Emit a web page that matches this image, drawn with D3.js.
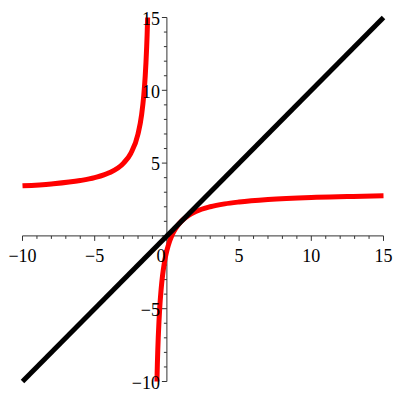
<!DOCTYPE html>
<html>
<head>
<meta charset="utf-8">
<script src="https://cdn.jsdelivr.net/npm/d3@7"></script>
<style>
  body { margin: 0; background: #fff; }
  text { font-family: "Liberation Serif", "Times New Roman", serif; font-size: 18px; fill: #000; }
</style>
</head>
<body>
<svg class="plot"></svg>
<script>
// curve points
const leftX  = [-10, -8, -6, -5, -4, -3, -2.5, -2, -1.75, -1.6, -1.5, -1.45, -1.4, -1.37, -1.333];
const leftY  = [3.44, 3.57, 3.8, 4.0, 4.33, 5.0, 5.67, 7.0, 8.33, 9.67, 11.0, 11.9, 13.0, 13.8, 15.0];
const rightX = [-0.69, -0.66, -0.63, -0.6, -0.55, -0.5, -0.4, -0.3, -0.2, -0.1, 0, 0.2, 0.333, 0.5, 0.75, 1, 1.5, 2, 3, 4, 5, 7, 10, 12.5, 15];
const rightY = [-10, -8.8, -7.8, -7.0, -5.9, -5.0, -3.67, -2.71, -2.0, -1.44, -1.0, -0.33, 0, 0.33, 0.71, 1.0, 1.4, 1.67, 2.0, 2.2, 2.33, 2.5, 2.64, 2.7, 2.75];
const lineX  = [-10, 15];
const lineY  = [-10, 15];
const xTicks = [-10, -5, 0, 5, 10, 15];
const yTicks = [-10, -5, 5, 10, 15];

const width = 400;
const height = 400;

const svg = d3.select('svg.plot')
	.attr('width', width)
	.attr('height', height);

const x = d3.scaleLinear().domain([-10, 15]).range([22.5, 383.5]);
const y = d3.scaleLinear().domain([-10, 15]).range([381.5, 17.5]);

const x0 = x(0);
const y0 = y(0);

// axes
const axes = svg.append('g').attr('stroke', '#333').attr('stroke-width', 1);

axes.append('line')
	.attr('x1', x(-10)).attr('x2', x(15))
	.attr('y1', y0).attr('y2', y0);
axes.append('line')
	.attr('x1', x0).attr('x2', x0)
	.attr('y1', y(-10)).attr('y2', y(15));

const units = d3.range(-10, 16);

axes.selectAll('line.xt')
	.data(units).enter()
	.append('line')
	.attr('class', 'xt')
	.attr('x1', d => x(d)).attr('x2', d => x(d))
	.attr('y1', y0)
	.attr('y2', d => y0 + (d % 5 === 0 ? 5 : 3));

axes.selectAll('line.yt')
	.data(units).enter()
	.append('line')
	.attr('class', 'yt')
	.attr('y1', d => y(d)).attr('y2', d => y(d))
	.attr('x1', x0)
	.attr('x2', d => x0 - (d % 5 === 0 ? 5 : 3));

// curves
const line = d3.line()
	.x(d => x(d[0]))
	.y(d => y(d[1]))
	.curve(d3.curveMonotoneX);

const left = leftX.map((v, i) => [v, leftY[i]]);
const right = rightX.map((v, i) => [v, rightY[i]]);

svg.selectAll('path.red')
	.data([left, right]).enter()
	.append('path')
	.attr('class', 'red')
	.attr('d', line)
	.attr('fill', 'none')
	.attr('stroke', '#ff0000')
	.attr('stroke-width', 5);

svg.append('path')
	.attr('d', d3.line().x(d => x(d[0])).y(d => y(d[1]))(lineX.map((v, i) => [v, lineY[i]])))
	.attr('fill', 'none')
	.attr('stroke', '#000')
	.attr('stroke-width', 5);

// labels
const fmt = d => (d < 0 ? '\u2212' + Math.abs(d) : '' + d);

svg.selectAll('text.xl')
	.data(xTicks).enter()
	.append('text')
	.attr('class', 'xl')
	.attr('x', d => d === 0 ? x(d) - 6 : x(d))
	.attr('y', y0 + 26)
	.attr('text-anchor', 'middle')
	.text(fmt);

svg.selectAll('text.yl')
	.data(yTicks).enter()
	.append('text')
	.attr('class', 'yl')
	.attr('x', x0 - 7)
	.attr('y', d => y(d))
	.attr('dy', '0.4em')
	.attr('text-anchor', 'end')
	.text(fmt);
</script>
</body>
</html>
